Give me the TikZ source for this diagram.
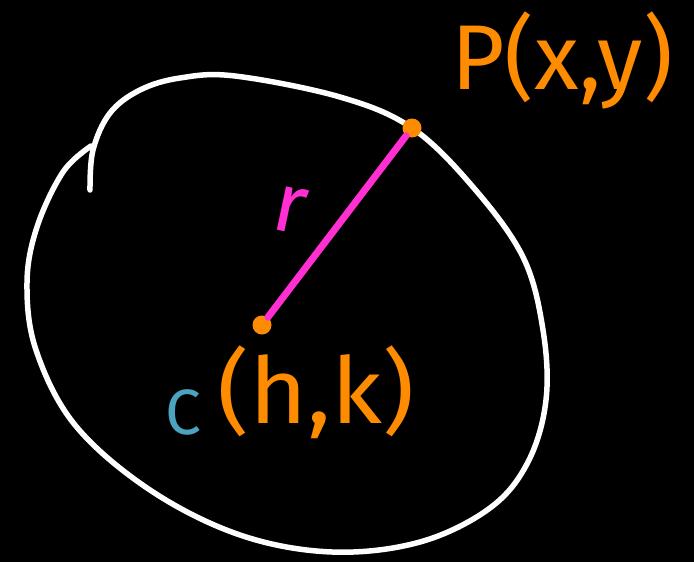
\documentclass[tikz,border=0pt]{standalone}
\usepackage{fontspec}
\setmainfont{Fira Sans}
\definecolor{penorange}{HTML}{FF8C00}
\definecolor{penpink}{HTML}{FF2FD2}
\definecolor{penteal}{HTML}{4BA3BF}

\tikzstyle{every node}=[inner sep=0pt, font={\fontsize{92}{92}\selectfont}]
\tikzstyle{dot}=[circle, fill=penorange, minimum size=19pt]
\tikzstyle{label}=[text=penorange]
\tikzstyle{outline}=[white, line width=5.5pt, line cap=round, line join=round]

\begin{document}
\begin{tikzpicture}[x=1pt, y=-1pt]
    \fill [black] (0,0) rectangle (694,562);
    \useasboundingbox (0,0) rectangle (694,562);

    % the circle, drawn freehand with the little hook where the stroke starts
    \draw [outline] plot [smooth, tension=0.6] coordinates {
        (90,190) (93,150) (110,113) (140,90) (180,78) (235,76) (340,97)
        (412,128) (473,187) (523,257) (543,330) (546,400) (528,462)
        (490,508) (420,542) (332,552) (240,535) (150,490) (75,425)
        (36,350) (27,283) (37,227) (63,172) (91,146)};

    \node [dot] (centre) at (262,325) {};
    \node [dot] (point) at (412,128) {};
    \draw [penpink, line width=7pt, line cap=round] (centre) -- (point);

    \node [text=penpink, rotate=-12, font={\fontsize{84}{84}\selectfont}] (radius) at (290,210) {r};
    \node [label] (pointlabel) at (562,60) {P(x,y)};
    \node [label, xscale=1.08] (centrelabel) at (316,392) {(h,k)};
    \node [text=penteal, font={\fontsize{64}{64}\selectfont}] (centrename) at (183,412) {C};
\end{tikzpicture}
\end{document}
